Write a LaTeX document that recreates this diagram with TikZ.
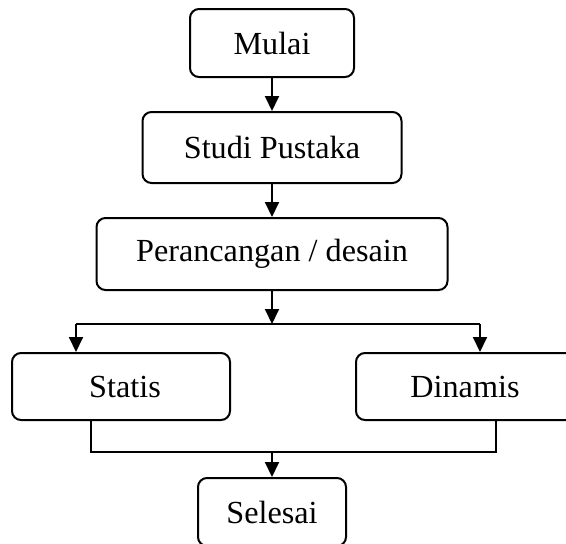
\documentclass[tikz,border=0pt]{standalone}
\usepackage{fontspec}
\setmainfont{Liberation Serif}
\usetikzlibrary{arrows.meta}
\tikzset{
  box/.style={draw, line width=2pt, rounded corners=9pt, inner sep=0pt,
    font=\fontsize{32.2}{38}\selectfont, anchor=center},
  link/.style={line width=2pt},
  arr/.style={line width=2pt, -{Triangle[width=14pt,length=15pt]}}
}
\begin{document}
\begin{tikzpicture}[x=1pt,y=-1pt]
\useasboundingbox (0,0) rectangle (566,544);
\clip (0,0) rectangle (566,544);
\node[box, minimum width=164pt, minimum height=68pt] (mulai) at (272,43) {Mulai};
\node[box, minimum width=259pt, minimum height=71pt] (studi) at (272,147.5) {Studi Pustaka};
\node[box, minimum width=351pt, minimum height=72pt] (desain) at (272,254) {Perancangan / desain};
\node[box, minimum width=218pt, minimum height=67pt] (statis) at (121,386.5) {\hspace*{8pt}Statis};
\node[box, minimum width=248pt, minimum height=67pt] (dinamis) at (480,386.5) {\hspace*{-30pt}Dinamis};
\node[box, minimum width=148pt, minimum height=68pt] (selesai) at (272,512) {Selesai};
\coordinate (split) at (272,324);
\coordinate (sL) at (76,324);
\coordinate (sR) at (480,324);
\coordinate (merge) at (272,452);
\coordinate (mL) at (91,452);
\coordinate (mR) at (496,452);
\draw[arr] (mulai.south) -- (studi.north);
\draw[arr] (studi.south) -- (desain.north);
\draw[arr] (desain.south) -- (split);
\draw[link] (sL) -- (sR);
\draw[arr] (sL) -- (sL |- statis.north);
\draw[arr] (sR) -- (sR |- dinamis.north);
\draw[link] (mL |- statis.south) -- (mL) -- (mR) -- (mR |- dinamis.south);
\draw[arr] (merge) -- (selesai.north);
\end{tikzpicture}
\end{document}
